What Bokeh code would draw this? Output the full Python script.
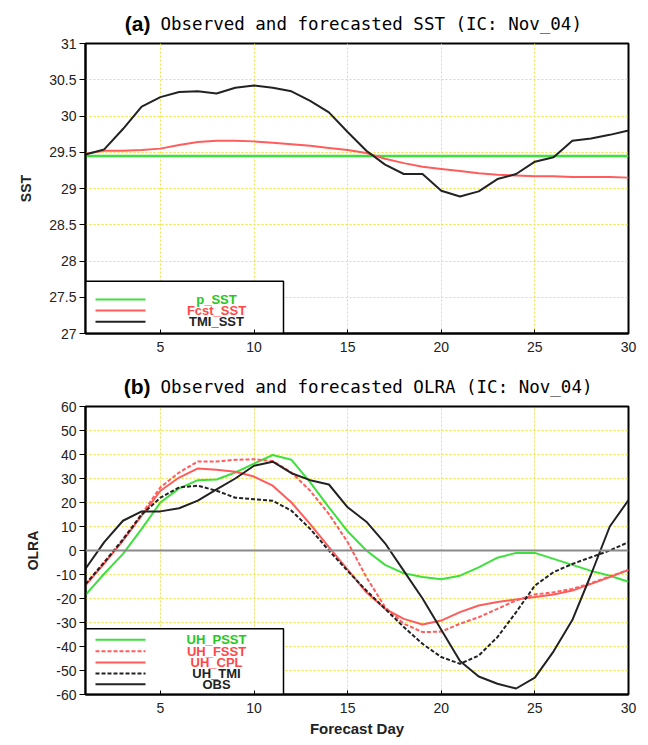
from bokeh.plotting import figure
from bokeh.layouts import column
from bokeh.models import Range1d, FixedTicker, NumeralTickFormatter, Label, Span
from bokeh.core.properties import value
from bokeh.embed import file_html
from bokeh.resources import INLINE

# ---------------- data ----------------
days = list(range(1, 31))

p_sst = [29.45, 29.45, 29.45, 29.45, 29.45, 29.45, 29.45, 29.45, 29.45, 29.45,
         29.45, 29.45, 29.45, 29.45, 29.45, 29.45, 29.45, 29.45, 29.45, 29.45,
         29.45, 29.45, 29.45, 29.45, 29.45, 29.45, 29.45, 29.45, 29.45, 29.45]
fcst_sst = [29.48, 29.52, 29.52, 29.53, 29.55, 29.60, 29.64, 29.66, 29.66, 29.65,
            29.63, 29.61, 29.59, 29.56, 29.53, 29.49, 29.41, 29.35, 29.30, 29.27,
            29.24, 29.21, 29.19, 29.18, 29.17, 29.17, 29.16, 29.16, 29.16, 29.15]
tmi_sst = [29.47, 29.54, 29.82, 30.13, 30.26, 30.33, 30.34, 30.31, 30.39, 30.42,
           30.39, 30.34, 30.21, 30.05, 29.78, 29.52, 29.33, 29.20, 29.20, 28.97,
           28.89, 28.96, 29.13, 29.20, 29.37, 29.43, 29.66, 29.69, 29.74, 29.80]

uh_psst = [-18.5, -9.7, -1.4, 9.0, 20.0, 25.9, 29.3, 29.6, 32.5, 36.2,
           39.8, 37.8, 28.4, 18.0, 8.0, 0.0, -6.0, -9.5, -11.0, -12.0,
           -10.5, -7.0, -3.0, -1.0, -1.0, -3.5, -6.0, -8.5, -10.5, -13.0]
uh_fsst = [-14.1, -4.8, 4.8, 15.2, 26.3, 32.5, 37.1, 37.1, 37.8, 38.0,
           37.3, 32.5, 24.9, 15.2, 3.5, -11.1, -23.6, -30.5, -34.0, -33.8,
           -30.5, -27.8, -24.3, -20.8, -18.3, -17.4, -16.0, -13.6, -10.8, -8.1]
uh_cpl = [-14.5, -5.5, 4.1, 14.5, 24.9, 30.4, 34.2, 33.6, 32.8, 30.8,
          27.0, 20.0, 11.0, 1.4, -8.0, -17.4, -24.3, -28.5, -30.8, -29.2,
          -25.7, -22.9, -21.5, -20.4, -19.4, -18.3, -16.7, -13.9, -11.1, -8.1]
uh_tmi = [-14.0, -5.0, 4.5, 15.0, 22.0, 26.3, 27.0, 24.9, 22.0, 21.4,
          20.7, 16.6, 9.0, 0.0, -8.5, -16.7, -24.3, -31.9, -38.9, -44.4,
          -47.2, -43.8, -36.1, -25.7, -14.6, -9.0, -5.6, -2.8, 0.0, 3.5]
obs = [-7.6, 3.5, 12.4, 16.3, 16.3, 17.6, 20.8, 25.5, 30.0, 35.3,
       37.0, 32.2, 29.3, 27.5, 18.0, 12.0, 3.0, -8.5, -20.0, -33.0,
       -46.0, -52.5, -55.5, -57.5, -53.0, -42.0, -29.0, -10.0, 10.0, 21.0]

x_ticks = [5, 10, 15, 20, 25, 30]
sst_ticks = [27, 27.5, 28, 28.5, 29, 29.5, 30, 30.5, 31]
olra_ticks = [-60, -50, -40, -30, -20, -10, 0, 10, 20, 30, 40, 50, 60]

sst_legend = ["p_SST", "Fcst_SST", "TMI_SST"]
olra_legend = ["UH_PSST", "UH_FSST", "UH_CPL", "UH_TMI", "OBS"]

title_a = ("(a)", "Observed and forecasted SST (IC: Nov_04)")
title_b = ("(b)", "Observed and forecasted OLRA (IC: Nov_04)")

# ---------------- style ----------------
GREEN = "#3ee03e"
RED = "#ff5c5c"
BLACK = "#222222"
GRID = "#ebe34a"
GREEN_T = "#22c922"
RED_T = "#ff4848"
FONT = "Liberation Sans"
MONO = "DejaVu Sans Mono"

W = 648
FL, FR = 85, 628
FW = FR - FL


def title_strip(height, tag, text, cy):
    # frame spans the same columns as the panels; x/y ranges are in pixels
    t = figure(width=W, height=height, x_range=Range1d(FL, FR), y_range=Range1d(height, 0),
               output_backend="svg", toolbar_location=None,
               x_axis_type=None, y_axis_type=None,
               min_border_left=FL, min_border_right=W - FR, min_border_top=0, min_border_bottom=0)
    t.outline_line_color = None
    t.grid.visible = False
    t.add_layout(Label(x=150, y=cy, text=tag, text_align="right",
                       text_baseline="middle", text_font=FONT, text_font_size="21px",
                       text_font_style="bold", text_color="black"))
    t.add_layout(Label(x=160, y=cy + 1, text=text, text_align="left",
                       text_baseline="middle", text_font=MONO, text_font_size="17.5px",
                       text_color="black"))
    return t


def make_fig(height, top, fh, yr, yticks, ylabel, xlabel=None):
    p = figure(width=W, height=height, x_range=Range1d(1, 30), y_range=Range1d(*yr),
               output_backend="svg", toolbar_location=None,
               min_border_left=FL, min_border_right=W - FR,
               min_border_top=top, min_border_bottom=height - top - fh)
    p.outline_line_color = "black"
    p.outline_line_width = 2
    p.xaxis.ticker = FixedTicker(ticks=x_ticks)
    p.yaxis.ticker = FixedTicker(ticks=yticks)
    p.yaxis.formatter = NumeralTickFormatter(format="0.[0]")
    p.grid.grid_line_color = GRID
    p.grid.grid_line_dash = "2 2"
    p.grid.grid_line_width = 1
    for ax in (p.xaxis, p.yaxis):
        ax.axis_line_color = "black"
        ax.axis_line_width = 2
        ax.major_tick_line_color = "black"
        ax.minor_tick_line_color = None
        ax.major_label_text_font = FONT
        ax.major_label_text_font_size = "14px"
        ax.major_label_text_color = BLACK
        ax.axis_label_text_font = FONT
        ax.axis_label_text_font_style = "bold"
        ax.axis_label_text_color = BLACK
    p.xaxis.major_tick_in = 4
    p.xaxis.major_tick_out = 0
    p.xaxis.major_label_standoff = 8
    p.yaxis.major_tick_in = 0
    p.yaxis.major_tick_out = 6
    p.yaxis.major_label_standoff = 3
    p.yaxis.axis_label = ylabel
    p.yaxis.axis_label_text_font_size = "14px"
    p.yaxis.axis_label_standoff = 12
    if xlabel:
        p.xaxis.axis_label = xlabel
        p.xaxis.axis_label_text_font_size = "15px"
        p.xaxis.axis_label_standoff = 4
    return p


def fx(px):
    return 1 + (px - FL) / FW * 29


def fy(py, top, fh, yr):
    return yr[1] - (py - top) / fh * (yr[1] - yr[0])


def add_legend(p, top, fh, yr, box_top, rows, labels, colors, tcolors, dashes):
    p.quad(left=[1], right=[fx(283)], bottom=[yr[0]], top=[fy(box_top, top, fh, yr)],
           fill_color="white", line_color="black", line_width=1.5)
    for py, lab, c, tc, d in zip(rows, labels, colors, tcolors, dashes):
        yy = fy(py, top, fh, yr)
        p.segment(x0=[fx(95)], y0=[yy], x1=[fx(145)], y1=[yy], line_color=c,
                  line_width=2, line_dash=d)
        p.text(x=[fx(216)], y=[yy], text=[lab], text_align="center", text_baseline="middle",
               text_font=value(FONT), text_font_size="13px", text_font_style="bold",
               text_color=tc)


# ---------------- panel (a) ----------------
TS1 = 36
t1 = title_strip(TS1, title_a[0], title_a[1], 22.5)
H1, T1, FH1 = 357 - TS1, 43 - TS1, 290
YR1 = (27, 31)
p1 = make_fig(H1, T1, FH1, YR1, sst_ticks, "SST")
p1.line(days, p_sst, line_color=GREEN, line_width=2.5)
p1.line(days, fcst_sst, line_color=RED, line_width=2)
p1.line(days, tmi_sst, line_color=BLACK, line_width=2)
add_legend(p1, T1, FH1, YR1, 280.7 - TS1, [r - TS1 for r in [299, 310, 321.3]], sst_legend,
           [GREEN, RED, BLACK], [GREEN_T, RED_T, BLACK], ["solid", "solid", "solid"])

# ---------------- panel (b) ----------------
S2 = 357
TS2 = 42
t2 = title_strip(TS2, title_b[0], title_b[1], 385.5 - S2)
off2 = S2 + TS2
H2, T2, FH2 = 745 - off2, 406 - off2, 288
YR2 = (-60, 60)
p2 = make_fig(H2, T2, FH2, YR2, olra_ticks, "OLRA", "Forecast Day")
p2.add_layout(Span(location=0, dimension="width", line_color="#8a8a8a", line_width=2))
p2.line(days, uh_psst, line_color=GREEN, line_width=2)
p2.line(days, uh_fsst, line_color=RED, line_width=2, line_dash="4 2")
p2.line(days, uh_cpl, line_color=RED, line_width=2)
p2.line(days, uh_tmi, line_color=BLACK, line_width=2, line_dash="4 2")
p2.line(days, obs, line_color=BLACK, line_width=2)
add_legend(p2, T2, FH2, YR2, 628.3 - off2,
           [r - off2 for r in [639.3, 650.7, 662, 673, 683.7]], olra_legend,
           [GREEN, RED, RED, BLACK, BLACK], [GREEN_T, RED_T, RED_T, BLACK, BLACK],
           ["solid", "4 2", "solid", "4 2", "solid"])

layout = column(t1, p1, t2, p2)
open("out.html", "w").write(file_html(layout, INLINE))
